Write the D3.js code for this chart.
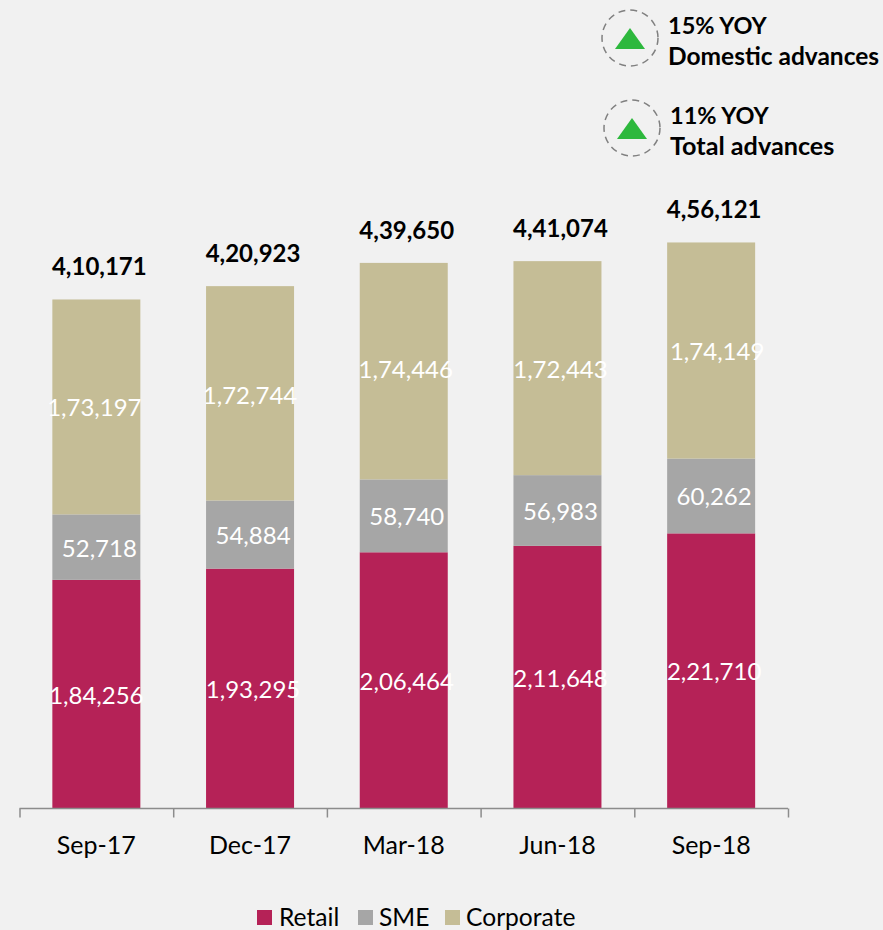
<!DOCTYPE html>
<html>
<head>
<meta charset="utf-8">
<script src="https://cdn.jsdelivr.net/npm/d3@7"></script>
<style>
html,body{margin:0;padding:0;background:#f1f1f1;overflow:hidden}
svg{display:block}
text{font-family:Lato,"Open Sans",sans-serif}
</style>
</head>
<body>
<svg id="chart" width="883" height="930"></svg>
<script>
const categories = ["Sep-17", "Dec-17", "Mar-18", "Jun-18", "Sep-18"];
const seriesNames = ["Retail", "SME", "Corporate"];
const retail = [184256, 193295, 206464, 211648, 221710];
const sme = [52718, 54884, 58740, 56983, 60262];
const corporate = [173197, 172744, 174446, 172443, 174149];
const totals = [410171, 420923, 439650, 441074, 456121];
const seriesColors = ["#b52257", "#a6a6a6", "#c5bd96"];
const callouts = [
  {head: "15% YOY", sub: "Domestic advances"},
  {head: "11% YOY", sub: "Total advances"}
];

const fmtIN = n => {
  // Indian digit grouping: last three digits, then pairs
  const s = String(n);
  if (s.length <= 3) return s;
  const tail = s.slice(-3);
  const head = s.slice(0, -3).replace(/\B(?=(\d{2})+(?!\d))/g, ",");
  return head + "," + tail;
};

const svg = d3.select("#chart");
const baseY = 808.5, left = 19.5, right = 788;

const x = d3.scaleBand().domain(categories).range([left, right]).paddingInner(0).paddingOuter(0);
const barW = 88;
const y = d3.scaleLinear().domain([0, 500000]).range([baseY, baseY - 620.5]);

const rows = categories.map((c, i) => ({cat: c, idx: i, Retail: retail[i], SME: sme[i], Corporate: corporate[i], total: totals[i]}));
const stacked = d3.stack().keys(seriesNames)(rows);
const color = d3.scaleOrdinal(seriesNames, seriesColors);

// hand-placed nudges for the value labels
const labelNudge = {
  Retail: [0, 3, 3, 3, 3],
  SME: [3, 3, 3, 3, 3],
  Corporate: [-2, 0, 2, 3, 6]
};
const corporateLift = [0, -1, 3, 0, 0];

// stacked bars and their value labels
const groups = svg.append("g").selectAll("g").data(stacked).join("g").attr("fill", d => color(d.key));
groups.selectAll("rect").data(d => d).join("rect")
  .attr("x", d => x(d.data.cat) + (x.bandwidth() - barW) / 2)
  .attr("width", barW)
  .attr("y", d => y(d[1]))
  .attr("height", d => y(d[0]) - y(d[1]));

svg.append("g").selectAll("g").data(stacked).join("g").selectAll("text")
  .data(d => d.map(v => ({v, key: d.key})))
  .join("text")
  .attr("x", d => x(d.v.data.cat) + x.bandwidth() / 2 + labelNudge[d.key][d.v.data.idx])
  .attr("y", d => (y(d.v[0]) + y(d.v[1])) / 2 + 9.5 - (d.key === "Corporate" ? corporateLift[d.v.data.idx] : 0))
  .attr("text-anchor", "middle")
  .attr("fill", "#ffffff")
  .attr("font-size", 24)
  .text(d => fmtIN(d.v.data[d.key]));

// totals above each stack
svg.append("g").selectAll("text").data(rows).join("text")
  .attr("x", d => x(d.cat) + x.bandwidth() / 2 + 3)
  .attr("y", d => y(d.total) - 24)
  .attr("text-anchor", "middle")
  .attr("font-size", 24)
  .attr("font-weight", 700)
  .attr("fill", "#000")
  .text(d => fmtIN(d.total));

// category axis, ticks on the band boundaries
const edges = d3.scaleLinear().domain([0, categories.length]).range([left, right]);
const tickAxis = d3.axisBottom(edges).ticks(categories.length).tickSize(9).tickFormat("");
const tickG = svg.append("g").attr("transform", `translate(0,${baseY})`).call(tickAxis);
tickG.selectAll("path,line").attr("stroke", "#8c8c8c").attr("stroke-width", 1.5);
tickG.select("path").attr("d", `M${left},0H${right}`);

const labelAxis = d3.axisBottom(x).tickSize(0).tickPadding(28);
const labelG = svg.append("g").attr("transform", `translate(0,${baseY})`).call(labelAxis);
labelG.select("path").remove();
labelG.selectAll("text").attr("font-size", 25).attr("font-family", "Lato").attr("fill", "#000");

// legend along the bottom edge
const legendItems = [{x: 257, tx: 279}, {x: 358, tx: 379}, {x: 445, tx: 466}];
const legend = svg.append("g").selectAll("g").data(seriesNames).join("g");
legend.append("rect")
  .attr("x", (d, i) => legendItems[i].x).attr("y", 910).attr("width", 15).attr("height", 15)
  .attr("fill", d => color(d));
legend.append("text")
  .attr("x", (d, i) => legendItems[i].tx).attr("y", 926)
  .attr("font-size", 24.6).attr("fill", "#000").text(d => d);

// growth callouts in the top right corner
const pos = [{cx: 630, cy: 38, tx: 668, subSize: 24.5}, {cx: 632, cy: 128, tx: 670, subSize: 25.2}];
const call = svg.append("g").selectAll("g").data(callouts).join("g");
call.append("circle")
  .attr("cx", (d, i) => pos[i].cx).attr("cy", (d, i) => pos[i].cy).attr("r", 28)
  .attr("fill", "none").attr("stroke", "#808080").attr("stroke-width", 1.5).attr("stroke-dasharray", "7 5");
call.append("path")
  .attr("d", (d, i) => {
    const {cx, cy} = pos[i];
    return `M${cx},${cy - 10}L${cx + 15},${cy + 11}L${cx - 15},${cy + 11}Z`;
  })
  .attr("fill", "#2db83d");
call.append("text")
  .attr("x", (d, i) => pos[i].tx).attr("y", (d, i) => pos[i].cy - 4)
  .attr("font-size", 23.5).attr("font-weight", 700).attr("fill", "#000").text(d => d.head);
call.append("text")
  .attr("x", (d, i) => pos[i].tx).attr("y", (d, i) => pos[i].cy + 27)
  .attr("font-size", (d, i) => pos[i].subSize).attr("font-weight", 700).attr("fill", "#000").text(d => d.sub);
</script>
</body>
</html>
